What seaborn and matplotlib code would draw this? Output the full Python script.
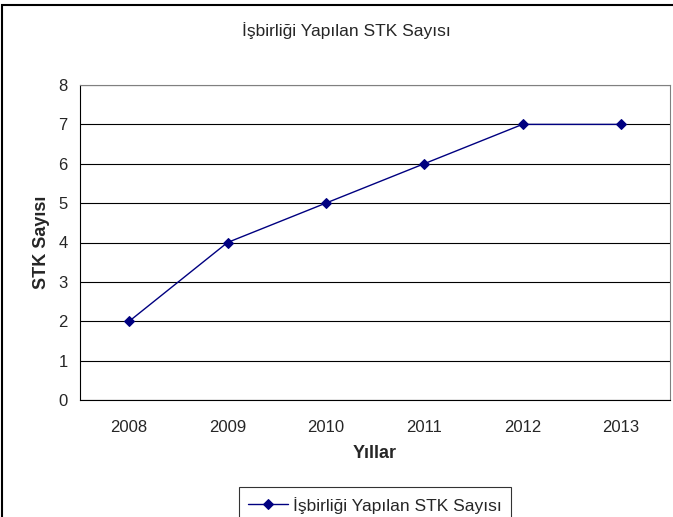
import numpy as np
import pandas as pd
import matplotlib.pyplot as plt
import seaborn as sns
from matplotlib.patches import Rectangle

years = ['2008', '2009', '2010', '2011', '2012', '2013']
stk_counts = [2, 4, 5, 6, 7, 7]
series_name = 'İşbirliği Yapılan STK Sayısı'

df = pd.DataFrame({'Yıl': years, 'STK': stk_counts})

sns.set_style('white')
plt.rcParams['font.family'] = ['Liberation Sans', 'DejaVu Sans']

W, H = 673, 517
fig = plt.figure(figsize=(W / 100, H / 100), dpi=100)
ax = fig.add_axes([80 / W, 1 - 400 / H, 590 / W, 315 / H])

sns.lineplot(data=df, x='Yıl', y='STK', color='#000080', marker='D',
             markersize=5, markeredgecolor='#000080', linewidth=1,
             label=series_name, ax=ax)

ax.set_xlim(-0.5, len(years) - 0.5)
ax.set_ylim(0, 8)
ax.set_yticks(range(0, 9))
ax.grid(axis='y', color='black', linewidth=0.8)
ax.set_axisbelow(True)

# Excel-style category ticks between labels
ax.set_xticks(np.arange(len(years)))
ax.set_xticks(np.arange(-0.5, len(years)), minor=True)
ax.tick_params(axis='x', which='major', length=0, pad=14.5, labelsize=12)
ax.tick_params(axis='x', which='minor', length=5, width=0.8, color='black', direction='out')
ax.tick_params(axis='y', length=5, width=0.8, color='black', direction='out', labelsize=12, pad=4)

for side in ['left', 'bottom']:
    ax.spines[side].set_color('black')
    ax.spines[side].set_linewidth(0.8)
for side in ['top', 'right']:
    ax.spines[side].set_color('#808080')
    ax.spines[side].set_linewidth(0.8)

ax.set_xlabel('Yıllar', fontsize=13, fontweight='bold', labelpad=7)
ax.set_ylabel('STK Sayısı', fontsize=13, fontweight='bold', labelpad=6)

fig.text(346 / W, 1 - 31 / H, series_name, ha='center', va='center', fontsize=12.5)

ax.get_legend().remove()
leg = fig.legend(loc='upper center', bbox_to_anchor=(375 / W, 1 - 487 / H),
                 fontsize=12.5, frameon=True, fancybox=False, edgecolor='black',
                 borderpad=0.55, handlelength=2.3, handletextpad=0.3,
                 borderaxespad=0)
leg.get_frame().set_linewidth(0.8)

fig.patches.append(Rectangle((2 / W, -0.1), 1.2, 1 - 5 / H + 0.1,
                             transform=fig.transFigure, fill=False,
                             edgecolor='black', linewidth=1.5))

fig.savefig('out.png', dpi=100)
